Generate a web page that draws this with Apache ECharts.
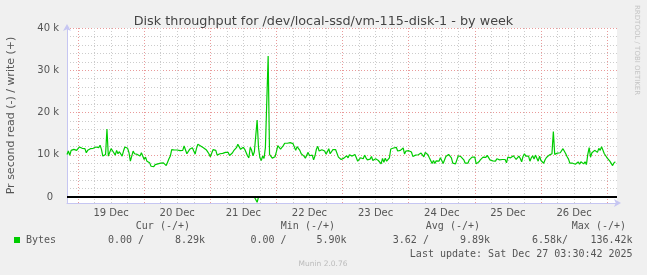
<!DOCTYPE html>
<html>
<head>
<meta charset="utf-8">
<script src="https://cdn.jsdelivr.net/npm/echarts@6/dist/echarts.min.js"></script>
<style>
html,body{margin:0;padding:0;background:#f0f0f0;}
#chart{width:647px;height:275px;}
</style>
</head>
<body>
<div id="chart"></div>
<script>
// ---- data ----
const titleText = 'Disk throughput for /dev/local-ssd/vm-115-disk-1 - by week';
const yAxisName = 'Pr second read (-) / write (+)';
const dayLabels = ['19 Dec','20 Dec','21 Dec','22 Dec','23 Dec','24 Dec','25 Dec','26 Dec'];
const yTickValues = [0, 10, 20, 30, 40];           // in k
// x unit: quarter-days (6 h) relative to 19 Dec 00:00
const startQ = -4 / 6;                              // 18 Dec 20:00
const endQ = 195.6 / 6;                             // 27 Dec ~03:36
const stepQ = 0.5 / 6;                              // 30 min samples

// write (+) bytes per second, in k, 30-min samples from 18 Dec 20:00
const writeK = [
10.08,10.88,9.84,11.04,10.72,11.28,11.04,11.04,11.44,11.84,
11.68,11.52,11.28,11.44,10.48,11.04,11.2,11.44,11.68,11.52,
11.68,11.84,12.0,11.68,12.24,11.28,9.68,9.92,10.08,16.08,
9.68,10.08,11.44,11.04,10.48,9.92,11.04,10.24,10.72,10.48,
9.68,10.88,11.84,12.08,11.52,10.48,8.48,9.68,10.88,10.24,
10.48,10.08,10.24,9.68,10.48,10.24,8.88,9.44,8.48,8.88,
8.08,7.28,7.04,7.2,7.68,7.52,7.84,7.68,8.0,7.84,
8.08,7.68,7.44,8.24,9.04,9.68,11.2,11.52,11.12,11.2,
11.12,10.88,10.96,10.56,11.04,12.08,12.24,10.24,9.92,11.28,
11.36,11.68,10.88,10.16,11.52,12.48,12.64,12.08,
12.16,11.68,12.0,11.2,10.72,10.24,9.52,9.68,11.2,11.2,
11.04,9.92,9.92,10.24,9.92,10.32,10.48,10.56,10.88,10.56,
9.84,9.92,10.4,10.96,10.56,11.68,12.48,12.08,11.28,11.68,
11.76,11.28,11.44,9.76,9.28,11.76,11.04,9.76,10.72,10.88,
18.24,11.68,9.28,8.64,9.68,9.12,11.68,12.08,33.36,10.08,
9.68,9.2,8.96,9.52,10.72,12.16,12.4,11.36,11.2,12.16,
12.72,12.8,12.72,12.8,12.88,13.04,12.64,12.64,11.04,11.92,
11.84,11.04,10.24,10.48,9.68,9.2,8.88,10.56,9.76,10.16,
9.92,8.8,9.76,11.28,12.0,10.88,10.48,11.2,11.52,10.88,
10.16,10.72,11.44,10.24,10.4,11.2,11.12,11.2,10.96,9.44,
9.44,8.88,8.72,9.2,9.36,9.76,9.28,10.0,10.4,9.68,
9.36,10.08,9.28,8.48,8.8,9.28,9.52,9.04,9.92,9.28,
8.8,9.2,8.96,9.6,8.64,8.24,9.04,9.44,8.64,8.64,
7.84,9.12,8.24,9.2,8.48,8.08,9.28,11.36,11.2,11.6,
12.0,11.76,10.88,11.2,11.04,10.64,11.6,10.16,10.88,10.72,
10.96,10.56,10.64,9.6,9.28,9.92,9.76,10.0,10.24,10.4,
10.0,9.52,10.56,10.32,10.0,9.28,9.12,7.92,8.64,7.92,
8.56,8.16,8.48,9.28,8.64,7.92,8.08,9.6,9.36,10.08,
10.0,9.28,8.0,8.32,7.84,8.24,9.76,9.76,9.52,9.44,
8.8,8.0,8.24,8.0,8.8,8.88,9.44,9.68,9.44,7.84,
8.08,8.32,8.8,8.64,9.44,9.6,9.36,9.84,10.0,8.8,
9.04,8.56,8.8,8.48,9.04,8.72,8.8,8.48,8.88,8.48,
8.88,8.08,9.44,9.6,9.28,9.44,9.76,9.92,8.88,8.88,
9.68,9.12,8.32,9.6,10.24,9.68,9.6,9.68,8.48,9.28,
9.76,8.96,9.92,9.68,8.48,9.68,8.64,8.64,8.0,8.8,
9.36,9.68,9.92,10.08,10.24,15.52,10.08,10.24,10.4,10.24,
10.48,10.88,11.44,11.04,10.24,9.52,8.96,8.0,7.68,8.0,
7.6,7.76,7.84,8.32,7.76,8.32,7.92,7.84,8.32,7.68,
10.08,11.68,9.44,10.48,10.56,11.04,10.88,10.56,11.52,11.04,
11.92,11.76,10.24,9.76,9.28,8.88,8.48,8.08,7.44,8.08,
8.32
];
// read (-) bytes per second, in k: zero except one short dip
const readDipIndex = [138];
const readDipK = [-1.25];

// legend / footer texts
const legendHeaders = ['Cur (-/+)','Min (-/+)','Avg (-/+)','Max (-/+)'];
const legendName = 'Bytes';
const legendReads = ['0.00 /','0.00 /','3.62 /','6.58k/'];
const legendWrites = ['8.29k','5.90k','9.89k','136.42k'];
const lastUpdate = 'Last update: Sat Dec 27 03:30:42 2025';
const footer = 'Munin 2.0.76';
const sideText = 'RRDTOOL / TOBI OETIKER';

// ---- build ----
const writeData = writeK.map((v, i) => [startQ + i * stepQ, v]);
const readK = writeK.map(() => 0);
readDipIndex.forEach((idx, j) => { readK[idx] = readDipK[j]; });
const readData = readK.map((v, i) => [startQ + i * stepQ, v]);

const lav = '#c6c6f2';
const mono = '"DejaVu Sans Mono", monospace';
const txtCol = '#555';
const minorCol = '#cccccc';
const majorCol = '#e99a9a';

const graphics = [];
const colRight = [190, 335, 480, 626];
legendHeaders.forEach((t, i) => graphics.push({type:'text', x: colRight[i], y: 226,
  style:{text:t, font:'10px ' + mono, fill: txtCol, align:'right', verticalAlign:'middle'}}));
graphics.push({type:'rect', shape:{x:14, y:237, width:6, height:6}, style:{fill:'#00cc00'}});
graphics.push({type:'text', x: 26, y: 240, style:{text: legendName, font:'10px ' + mono, fill: txtCol, align:'left', verticalAlign:'middle'}});
const readLeft = [108, 250.5, 392.8, 532];
const writeRight = [205, 346.6, 490, 632.6];
legendReads.forEach((t, i) => graphics.push({type:'text', x: readLeft[i], y: 240,
  style:{text:t, font:'10px ' + mono, fill: txtCol, align:'left', verticalAlign:'middle'}}));
legendWrites.forEach((t, i) => graphics.push({type:'text', x: writeRight[i], y: 240,
  style:{text:t, font:'10px ' + mono, fill: txtCol, align:'right', verticalAlign:'middle'}}));
graphics.push({type:'text', x: 632.6, y: 254, style:{text: lastUpdate, font:'10px ' + mono, fill: txtCol, align:'right', verticalAlign:'middle'}});
graphics.push({type:'text', x: 323, y: 264, style:{text: footer, font:'7.5px "DejaVu Sans"', fill:'#bbbbbb', align:'center', verticalAlign:'middle'}});
graphics.push({type:'text', x: 637, y: 5, rotation: -Math.PI/2, style:{text: sideText, font:'7px "DejaVu Sans"', fill:'#c4c4c4', align:'left', verticalAlign:'middle'}});

const chart = echarts.init(document.getElementById('chart'), null, {renderer:'canvas'});
chart.setOption({
  animation: false,
  backgroundColor: '#f0f0f0',
  textStyle: {fontFamily: 'DejaVu Sans'},
  title: {text: titleText, left: 'center', top: 10,
    textStyle: {fontFamily:'DejaVu Sans', fontSize: 12.8, fontWeight: 'normal', color: '#444'}},
  grid: {left: 67, right: 30, top: 28, bottom: 72, containLabel: false, outerBoundsMode: 'none',
    show: true, backgroundColor: '#ffffff', borderWidth: 0},
  xAxis: {
    type: 'value', min: startQ, max: endQ, splitNumber: 34, minInterval: 1, maxInterval: 1,
    axisLine: {show: true, onZero: false, lineStyle: {color: lav, width: 1}, symbol: ['none','arrow'], symbolSize: [6, 7], symbolOffset: [0, 4]},
    axisTick: {show: false},
    splitLine: {show: true, showMinLine: false, showMaxLine: false,
      lineStyle: {color: [majorCol, minorCol, minorCol, minorCol], type: [1, 2], width: 1}},
    axisLabel: {customValues: dayLabels.map((_, i) => 2 + 4 * i),
      formatter: v => dayLabels[Math.round((v - 2) / 4)],
      color: txtCol, fontSize: 10, margin: 5, fontFamily: 'DejaVu Sans'}
  },
  yAxis: {
    type: 'value', min: -1.42, max: 40, splitNumber: 20, minInterval: 2, maxInterval: 2,
    name: yAxisName, nameLocation: 'middle', nameRotate: 90, nameGap: 50,
    nameTextStyle: {color: txtCol, fontSize: 11, fontFamily: 'DejaVu Sans'},
    axisLine: {show: true, onZero: false, lineStyle: {color: lav, width: 1}, symbol: ['none','arrow'], symbolSize: [6, 7], symbolOffset: [0, 4]},
    axisTick: {show: false},
    splitLine: {show: true, showMinLine: false, showMaxLine: true,
      lineStyle: {color: [majorCol, minorCol, minorCol, minorCol, minorCol], type: [1, 2], width: 1}},
    axisLabel: {customValues: yTickValues,
      formatter: v => v === 0 ? '{z|0}' : v + ' k',
      rich: {z: {padding: [0, 6, 0, 0], color: txtCol, fontSize: 10, fontFamily: 'DejaVu Sans'}},
      color: txtCol, fontSize: 10, margin: 8, fontFamily: 'DejaVu Sans'}
  },
  series: [
    {type: 'line', name: 'read', data: readData, z: 3, showSymbol: false, silent: true,
      lineStyle: {color: '#00cc00', width: 1.2}},
    {type: 'line', name: 'zero', data: [], z: 4, silent: true,
      markLine: {silent: true, symbol: 'none', animation: false, label: {show: false},
        lineStyle: {color: '#000000', type: 'solid', width: 2}, data: [{yAxis: 0}]}},
    {type: 'line', name: 'write', data: writeData, z: 5, showSymbol: false, silent: true,
      lineStyle: {color: '#00cc00', width: 1.2}}
  ],
  graphic: graphics
});
</script>
</body>
</html>
